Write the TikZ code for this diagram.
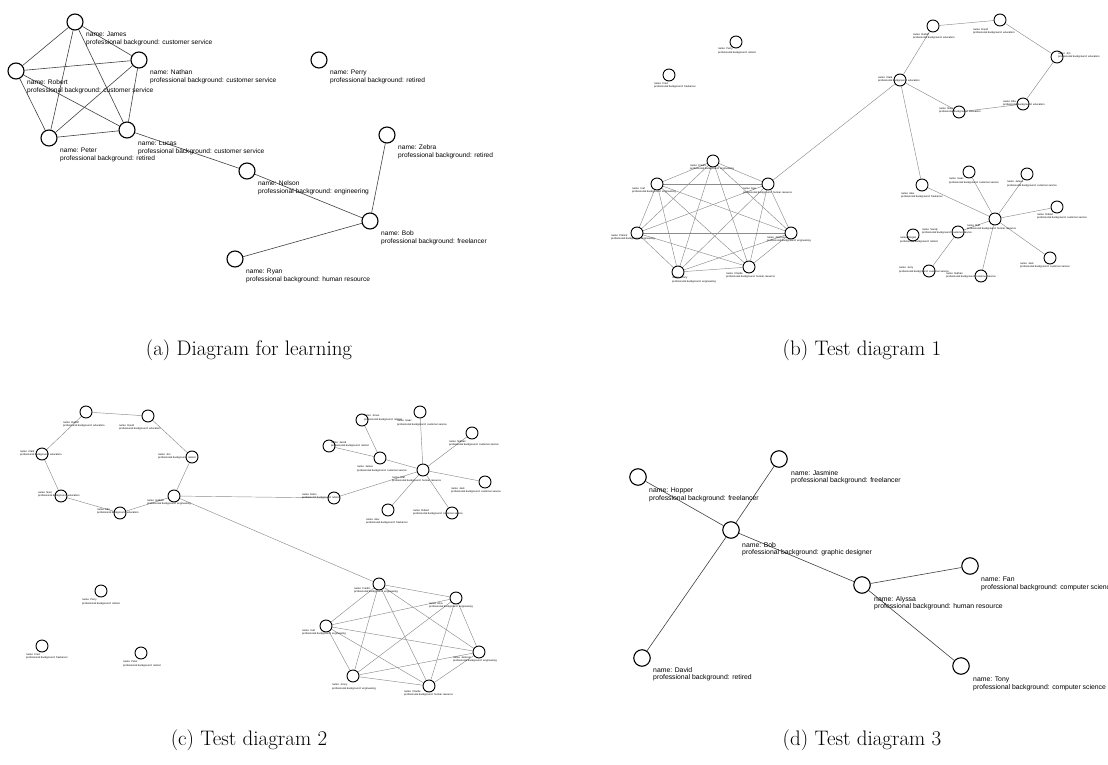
\documentclass[tikz,border=0pt]{standalone}
\usepackage{fontspec}
\newfontfamily\lblfont{Liberation Sans}
\usetikzlibrary{backgrounds}
\newcommand\pers[8]{%
  \node[#2] (#1) at (#3,#4) {};
  \node[#2l] (#1l) at (#5,#6) {name: #7\\professional background: #8};}
\tikzset{
  pa/.style={circle, draw, fill=white, line width=1.1pt, minimum size=16pt, inner sep=0pt},
  pd/.style={pa, minimum size=16.5pt},
  pb/.style={circle, draw, fill=white, line width=0.9pt, minimum size=12pt, inner sep=0pt},
  pc/.style={pb},
  pal/.style={anchor=north west, inner sep=0pt, align=left, font=\lblfont\fontsize{6.6}{7.3}\selectfont},
  pdl/.style={anchor=north west, inner sep=0pt, align=left, font=\lblfont\fontsize{6.85}{7.2}\selectfont},
  pbl/.style={anchor=north west, inner sep=0pt, align=left, font=\lblfont\fontsize{2.6}{3.3}\selectfont},
  pcl/.style={pbl},
  ea/.style={draw=black!75, line width=0.6pt},
  eb/.style={draw=black!45, line width=0.45pt},
  captext/.style={anchor=base, inner sep=0pt, font=\fontsize{21}{25}\selectfont}
}
\begin{document}
\begin{tikzpicture}[x=1pt,y=-1pt]
\useasboundingbox (0,0) rectangle (1108,765);
% ---------------- panel (a)
\pers{aJames}{pa}{75}{22}{86}{32}{James}{customer service}
\pers{aNathan}{pa}{139}{60}{150}{70}{Nathan}{customer service}
\pers{aRobert}{pa}{16}{71}{27}{80}{Robert}{customer service}
\pers{aPeter}{pa}{49}{138}{60}{148}{Peter}{retired}
\pers{aLucas}{pa}{127}{130}{138}{141}{Lucas}{customer service}
\pers{aPerry}{pa}{319}{60}{330}{70}{Perry}{retired}
\pers{aZebra}{pa}{387}{135}{398}{145}{Zebra}{retired}
\pers{aNelson}{pa}{247}{171}{258}{181}{Nelson}{engineering}
\pers{aBob}{pa}{370}{221}{381}{231}{Bob}{freelancer}
\pers{aRyan}{pa}{235}{259}{246}{269}{Ryan}{human resource}
% ---------------- panel (d)
\pers{dHopper}{pd}{638}{477}{649}{488}{Hopper}{freelancer}
\pers{dJasmine}{pd}{779}{459}{791}{470}{Jasmine}{freelancer}
\pers{dBob}{pd}{731}{530}{742}{542}{Bob}{graphic designer}
\pers{dDavid}{pd}{642}{658}{653}{667}{David}{retired}
\pers{dAlyssa}{pd}{862}{585}{874}{596}{Alyssa}{human resource}
\pers{dFan}{pd}{970}{566}{981}{577}{Fan}{computer science}
\pers{dTony}{pd}{961}{666}{973}{677}{Tony}{computer science}
% ---------------- panel (b)
\pers{bPerry}{pb}{736}{42}{718}{48}{Perry}{retired}
\pers{bFred}{pb}{669}{75}{654}{82}{Fred}{freelancer}
\pers{bClark}{pb}{900}{80}{878}{76}{Clark}{education}
\pers{bRudolf}{pb}{933}{26}{913}{33}{Rudolf}{education}
\pers{bDavid}{pb}{1000}{20}{973}{28}{David}{education}
\pers{bJim}{pb}{1057}{57}{1058}{52}{Jim}{education}
\pers{bElla}{pb}{1023}{104}{1003}{100}{Ella}{education}
\pers{bNoel}{pb}{959}{112}{939}{107}{Noel}{education}
\pers{bFredric}{pb}{713}{161}{690}{164}{Fredric}{engineering}
\pers{bCarl}{pb}{657}{184}{632}{187}{Carl}{engineering}
\pers{bEge}{pb}{768}{184}{743}{188}{Ege}{human resource}
\pers{bPatrick}{pb}{637}{233}{611}{234}{Patrick}{engineering}
\pers{bJackson}{pb}{791}{233}{767}{236}{Jackson}{engineering}
\pers{bJonny}{pb}{678}{272}{672}{277}{Jonny}{engineering}
\pers{bCharlie}{pb}{749}{267}{726}{272}{Charlie}{human resource}
\pers{bAlex}{pb}{922}{185}{901}{192}{Alex}{freelancer}
\pers{bRalf}{pb}{995}{219}{967}{224}{Ralf}{human resource}
\pers{bIsaac}{pb}{969}{172}{949}{178}{Isaac}{customer service}
\pers{bJames}{pb}{1027}{174}{1007}{181}{James}{customer service}
\pers{bRobert}{pb}{1057}{207}{1037}{213}{Robert}{customer service}
\pers{bJack}{pb}{1050}{258}{1020}{262}{Jack}{customer service}
\pers{bNathan}{pb}{981}{276}{946}{272}{Nathan}{customer service}
\pers{bSandy}{pb}{958}{232}{922}{228}{Sandy}{customer service}
\pers{bMegan}{pb}{913}{235}{900}{237}{Megan}{retired}
\pers{bJerry}{pb}{929}{271}{899}{267}{Jerry}{customer service}
% ---------------- panel (c)
\pers{cRudolf}{pc}{86}{412}{63}{421}{Rudolf}{education}
\pers{cDavid}{pc}{148}{416}{119}{424}{David}{education}
\pers{cJim}{pc}{192}{457}{158}{453}{Jim}{retired}
\pers{cClark}{pc}{42}{454}{20}{450}{Clark}{education}
\pers{cNoel}{pc}{61}{496}{38}{491}{Noel}{education}
\pers{cElla}{pc}{120}{513}{97}{508}{Ella}{education}
\pers{cGabriel}{pc}{174}{496}{147}{499}{Gabriel}{engineering}
\pers{cEden}{pc}{334}{498}{302}{493}{Eden}{retired}
\pers{cRalf}{pc}{423}{470}{392}{476}{Ralf}{human resource}
\pers{cIsaac}{pc}{420}{412}{397}{420}{Isaac}{customer service}
\pers{cJones}{pc}{362}{420}{364}{415}{Jones}{retired}
\pers{cJacob}{pc}{329}{446}{331}{441}{Jacob}{retired}
\pers{cJames}{pc}{380}{458}{357}{466}{James}{customer service}
\pers{cNathan}{pc}{472}{433}{449}{440}{Nathan}{customer service}
\pers{cJack}{pc}{485}{482}{451}{487}{Jack}{customer service}
\pers{cRobert}{pc}{452}{513}{413}{509}{Robert}{customer service}
\pers{cAlex}{pc}{388}{510}{366}{518}{Alex}{freelancer}
\pers{cPerry}{pc}{101}{591}{82}{599}{Perry}{retired}
\pers{cFred}{pc}{42}{646}{26}{653}{Fred}{freelancer}
\pers{cPeter}{pc}{141}{653}{123}{661}{Peter}{retired}
\pers{cFredric}{pc}{379}{584}{354}{587}{Fredric}{engineering}
\pers{cAlva}{pc}{456}{598}{429}{602}{Alva}{engineering}
\pers{cCarl}{pc}{326}{626}{302}{629}{Carl}{engineering}
\pers{cJackson}{pc}{479}{652}{453}{656}{Jackson}{engineering}
\pers{cJonny}{pc}{353}{676}{332}{684}{Jonny}{engineering}
\pers{cCharlie}{pc}{429}{686}{404}{690}{Charlie}{human resource}
% ---------------- edges
\begin{pgfonlayer}{background}
\foreach \p/\q in {aJames/aNathan, aJames/aRobert, aJames/aPeter, aJames/aLucas,
  aNathan/aRobert, aNathan/aPeter, aNathan/aLucas, aRobert/aPeter, aRobert/aLucas,
  aPeter/aLucas, aLucas/aNelson, aNelson/aBob, aBob/aZebra, aBob/aRyan,
  dHopper/dBob, dJasmine/dBob, dDavid/dBob, dBob/dAlyssa, dAlyssa/dFan, dAlyssa/dTony}
  \draw[ea] (\p) -- (\q);
\foreach \p/\q in {bClark/bRudolf, bRudolf/bDavid, bDavid/bJim, bJim/bElla, bElla/bNoel,
  bNoel/bClark, bClark/bEge, bClark/bAlex,
  bFredric/bCarl, bFredric/bEge, bFredric/bPatrick, bFredric/bJackson, bFredric/bJonny, bFredric/bCharlie,
  bCarl/bEge, bCarl/bPatrick, bCarl/bJackson, bCarl/bJonny, bCarl/bCharlie,
  bEge/bPatrick, bEge/bJackson, bEge/bJonny, bEge/bCharlie,
  bPatrick/bJackson, bPatrick/bJonny, bPatrick/bCharlie,
  bJackson/bJonny, bJackson/bCharlie, bJonny/bCharlie,
  bRalf/bIsaac, bRalf/bJames, bRalf/bRobert, bRalf/bJack, bRalf/bNathan, bRalf/bAlex,
  bRalf/bSandy, bSandy/bJerry,
  cRudolf/cDavid, cDavid/cJim, cJim/cGabriel, cGabriel/cElla, cElla/cNoel, cNoel/cClark,
  cClark/cRudolf, cGabriel/cEden, cGabriel/cFredric,
  cJones/cJames, cJacob/cJames, cJames/cRalf, cRalf/cIsaac, cRalf/cNathan, cRalf/cJack,
  cRalf/cRobert, cRalf/cAlex, cRalf/cEden,
  cFredric/cAlva, cFredric/cCarl, cFredric/cJackson, cFredric/cJonny, cFredric/cCharlie,
  cAlva/cCarl, cAlva/cJackson, cAlva/cJonny, cAlva/cCharlie,
  cCarl/cJackson, cCarl/cJonny, cCarl/cCharlie,
  cJackson/cJonny, cJackson/cCharlie, cJonny/cCharlie}
  \draw[eb] (\p) -- (\q);
\end{pgfonlayer}
% ---------------- captions
\node[captext] (capa) at (249,355) {(a) Diagram for learning};
\node[captext] (capb) at (862,355) {(b) Test diagram 1};
\node[captext] (capc) at (249,745) {(c) Test diagram 2};
\node[captext] (capd) at (862,745) {(d) Test diagram 3};
\end{tikzpicture}
\end{document}
